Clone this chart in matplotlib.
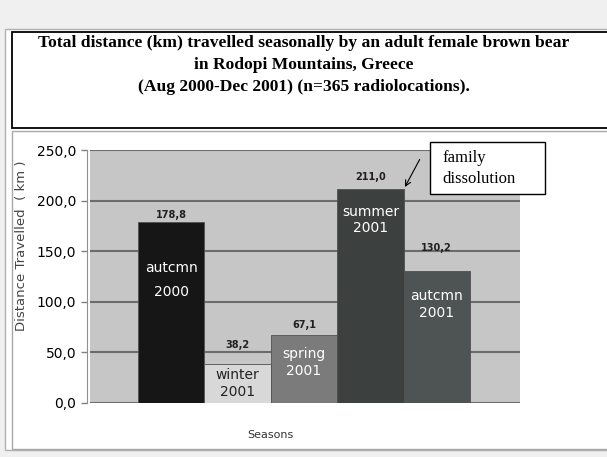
import matplotlib.pyplot as plt
from matplotlib.patches import Rectangle

seasons = ["autcmn\n2000", "winter\n2001", "spring\n2001", "summer\n2001", "autcmn\n2001"]
distance = [178.8, 38.2, 67.1, 211.0, 130.2]
value_labels = ["178,8", "38,2", "67,1", "211,0", "130,2"]
yticks = [0, 50, 100, 150, 200, 250]

bar_colors = ["#161616", "#d8d8d8", "#7b7b7b", "#3c4140", "#4e5453"]
text_colors = ["white", "#222222", "white", "white", "white"]
# offsets in points (value label above bar, season label below bar top)
value_pad = [5, 14, 7, 9, 17]
inner_pad = [42, 14, 20, 22, 24]
line_gap = [1.9, 1.3, 1.25, 1.25, 1.25]

W, H = 607, 457
fig = plt.figure(figsize=(W / 100, H / 100), dpi=100, facecolor="#f0f0f0")


def fx(px):
    return px / W


def fy(py):
    return 1 - py / H


def box(x0, y0, x1, y1, fc, ec, lw, z):
    fig.patches.append(Rectangle((fx(x0), fy(y1)), (x1 - x0) / W, (y1 - y0) / H,
                                 transform=fig.transFigure, facecolor=fc,
                                 edgecolor=ec, lw=lw, zorder=z))


# white page with frames
box(5, 29, 612, 450, "white", "#b0b0b0", 1, -10)
box(12, 32, 612, 128, "white", "black", 1.3, -9)
box(12, 131, 612, 449, "white", "#a8a8a8", 1, -9)

title = ["Total distance (km) travelled seasonally by an adult female brown bear",
         "in Rodopi Mountains, Greece",
         "(Aug 2000-Dec 2001) (n=365 radiolocations)."]
for i, line in enumerate(title):
    fig.text(fx(304), fy(43 + 22 * i), line, ha="center", va="center",
             family="Liberation Serif", fontweight="bold", fontsize=12.6)

ax = fig.add_axes([fx(90), fy(403), fx(520 - 90), (403 - 150) / H])
ax.set_facecolor("#c6c6c6")
x = list(range(len(distance)))
bars = ax.bar(x, distance, width=1.0, color=bar_colors, edgecolor="#505050",
              linewidth=0.6, zorder=2)

for i, b in enumerate(bars):
    cx = b.get_x() + b.get_width() / 2
    ax.annotate(value_labels[i], (cx, distance[i]), xytext=(0, value_pad[i]),
                textcoords="offset points", ha="center", va="center",
                fontsize=7, fontweight="bold", color="#202020")
    ax.annotate(seasons[i], (cx, distance[i]), xytext=(0, -inner_pad[i]),
                textcoords="offset points", ha="center", va="center",
                fontsize=10, color=text_colors[i], linespacing=line_gap[i])

ax.set_xlim(-1.223, 5.253)
ax.set_ylim(0, 250)
ax.set_xticks([])
ax.set_yticks(yticks)
ax.set_yticklabels([f"{v:.1f}".replace(".", ",") for v in yticks],
                   fontsize=7, color="#444444")
ax.tick_params(axis="y", length=4, width=1, color="#808080", pad=4)
ax.grid(axis="y", color="#6c6c6c", linewidth=1.5, zorder=1)
gls = ax.get_ygridlines()
gls[0].set_visible(False)
gls[-1].set_visible(False)
for s in ["top", "right", "bottom"]:
    ax.spines[s].set_visible(False)
ax.spines["left"].set_color("#909090")
ax.spines["left"].set_position(("outward", 2))
ax.set_axisbelow(True)

fig.text(fx(22), fy(246), "Distance Travelled  ( km )", rotation=90,
         ha="center", va="center", fontsize=9.5, color="#444444")
fig.text(fx(270), fy(435), "Seasons", ha="center", va="center",
         fontsize=8, color="#333333")

# family dissolution note
box(430, 142, 545, 194, "white", "black", 1, 5)
fig.text(fx(442), fy(158), "family", ha="left", va="center",
         family="Liberation Serif", fontsize=12, zorder=6)
fig.text(fx(442), fy(179), "dissolution", ha="left", va="center",
         family="Liberation Serif", fontsize=12, zorder=6)
ax.annotate("", xy=(3.5, distance[3]), xytext=(fx(421), fy(157)),
            textcoords="figure fraction",
            arrowprops=dict(arrowstyle="->", color="black", lw=0.8))

fig.savefig("out.png", dpi=100, facecolor=fig.get_facecolor())
